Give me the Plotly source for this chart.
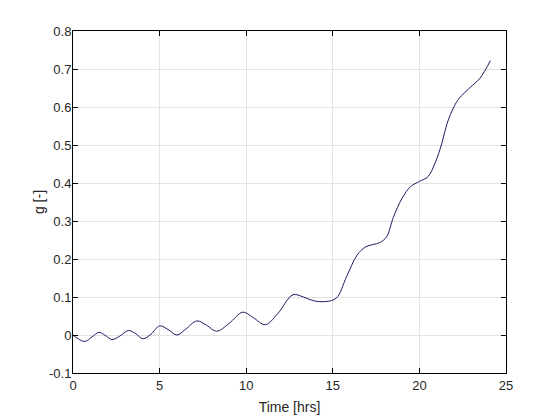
import plotly.graph_objects as go

time_hrs = [0, 0.3, 0.69, 1.1, 1.5, 1.9, 2.25, 2.7, 3.2, 3.6, 4.05, 4.5, 5.0, 5.5, 6.0, 6.5,
            7.15, 7.7, 8.3, 9.0, 9.8, 10.4, 11.1, 11.8, 12.7, 13.3, 13.9, 14.6, 15.2, 15.8,
            16.4, 16.9, 17.7, 18.1, 18.5, 19.0, 19.5, 20.0, 20.5, 20.9, 21.3, 21.6, 22.0,
            22.3, 22.9, 23.5, 24.1]
g_vals = [0, -0.01, -0.017, -0.005, 0.007, -0.002, -0.012, -0.003, 0.012, 0.004, -0.01,
          0.002, 0.024, 0.014, 0.0, 0.015, 0.037, 0.026, 0.01, 0.03, 0.06, 0.046, 0.027,
          0.055, 0.106, 0.1, 0.09, 0.088, 0.097, 0.154, 0.21, 0.232, 0.243, 0.258, 0.31,
          0.36, 0.391, 0.404, 0.417, 0.452, 0.505, 0.557, 0.601, 0.623, 0.65, 0.676, 0.722]

x_ticks = [0, 5, 10, 15, 20, 25]
x_tick_labels = ["0", "5", "10", "15", "20", "25"]
y_ticks = [-0.1, 0, 0.1, 0.2, 0.3, 0.4, 0.5, 0.6, 0.7, 0.8]
y_tick_labels = ["-0.1", "0", "0.1", "0.2", "0.3", "0.4", "0.5", "0.6", "0.7", "0.8"]

FONT = "Liberation Sans, Arial, sans-serif"

fig = go.Figure()
fig.add_trace(go.Scatter(x=time_hrs, y=g_vals, mode="lines",
                         line=dict(color="#1c1c5e", width=1, shape="spline", smoothing=1.0),
                         showlegend=False))

axis_common = dict(showline=True, linecolor="black", linewidth=1, mirror="ticks",
                   ticks="inside", ticklen=5, tickcolor="black", tickwidth=1,
                   showgrid=True, gridcolor="#e3e3e3", gridwidth=1, zeroline=False,
                   tickfont=dict(family=FONT, size=13, color="#262626"),
                   automargin=False)

fig.update_xaxes(range=[0, 25], tickvals=x_ticks, ticktext=x_tick_labels,
                 title=dict(text="Time [hrs]", standoff=10,
                            font=dict(family=FONT, size=14, color="#262626")),
                 **axis_common)
fig.update_yaxes(range=[-0.1, 0.8], tickvals=y_ticks, ticktext=y_tick_labels,
                 ticklabelstandoff=-2,
                 title=dict(text="g [-]", standoff=1,
                            font=dict(family=FONT, size=14, color="#262626")),
                 **axis_common)

# page body has an 8px margin, so the figure starts at (8, 8)
fig.update_layout(width=560, height=420, margin=dict(l=65, r=62, t=23, b=55),
                  paper_bgcolor="white", plot_bgcolor="white")

fig.write_html("out.html")
